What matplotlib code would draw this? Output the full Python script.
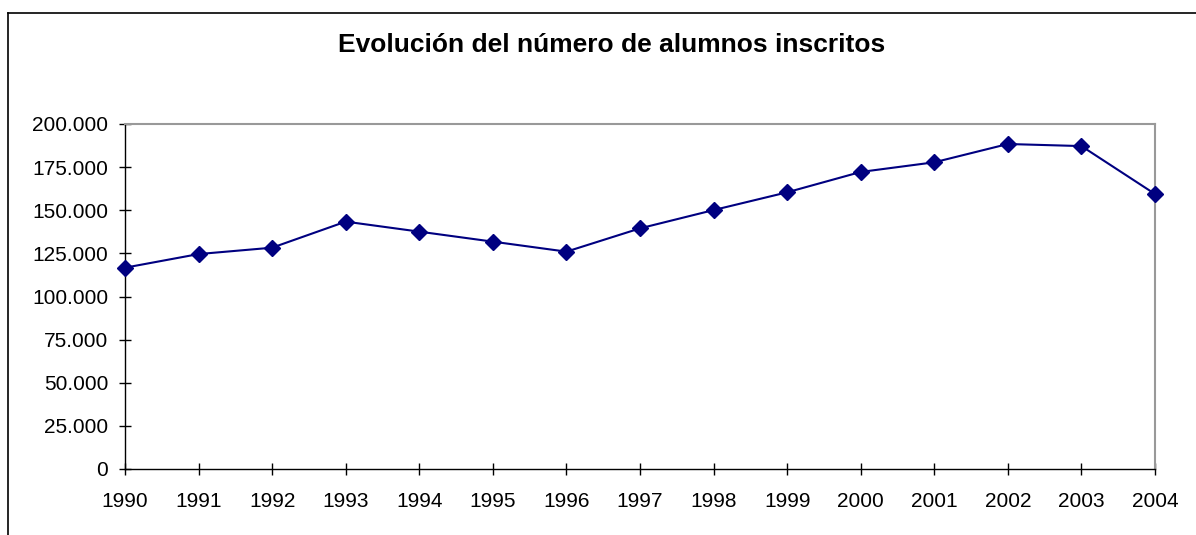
import matplotlib
matplotlib.use("Agg")
import matplotlib.pyplot as plt
from matplotlib.lines import Line2D
from matplotlib.ticker import FuncFormatter

plt.rcParams['font.family'] = ['Liberation Sans', 'DejaVu Sans']

years = ['1990', '1991', '1992', '1993', '1994', '1995', '1996', '1997',
         '1998', '1999', '2000', '2001', '2002', '2003', '2004']
alumnos = [116700, 124600, 128300, 143400, 137600, 131800, 126000, 139500,
           150100, 160400, 172200, 177800, 188400, 187200, 159400]
yticks = [0, 25000, 50000, 75000, 100000, 125000, 150000, 175000, 200000]

fig = plt.figure(figsize=(11.96, 5.35), dpi=100)
ax = fig.add_axes([125 / 1196, 66 / 535, 1030 / 1196, 345 / 535])

x = list(range(len(years)))
ax.plot(x, alumnos, color='#000080', linewidth=1.5, marker='D',
        markersize=8, markerfacecolor='#000080', markeredgecolor='#000080',
        clip_on=False, zorder=3)

ax.set_xlim(0, len(years) - 1)
ax.set_ylim(0, 200000)
ax.set_xticks(x)
ax.set_xticklabels(years)
ax.set_yticks(yticks)
ax.yaxis.set_major_formatter(FuncFormatter(lambda v, p: f"{v:,.0f}".replace(',', '.')))

ax.tick_params(axis='both', direction='inout', length=9, width=1, color='black',
               labelsize=15, labelcolor='black')
ax.tick_params(axis='y', pad=7.7)
ax.tick_params(axis='x', pad=12)

for s in ['left', 'bottom']:
    ax.spines[s].set_color('black')
    ax.spines[s].set_linewidth(1)
for s in ['top', 'right']:
    ax.spines[s].set_color('#999999')
    ax.spines[s].set_linewidth(1.5)

fig.text(611.5 / 1196, 1 - 52 / 535, 'Evolución del número de alumnos inscritos',
         ha='center', va='baseline', fontsize=19, fontweight='bold')

# outer chart border (only top and left visible)
fig.add_artist(Line2D([7.5 / 1196, 7.5 / 1196], [0, 1 - 12.5 / 535],
                      color='black', linewidth=1.2, transform=fig.transFigure))
fig.add_artist(Line2D([7.5 / 1196, 1], [1 - 12.5 / 535, 1 - 12.5 / 535],
                      color='black', linewidth=1.2, transform=fig.transFigure))

fig.savefig('out.png', dpi=100)
